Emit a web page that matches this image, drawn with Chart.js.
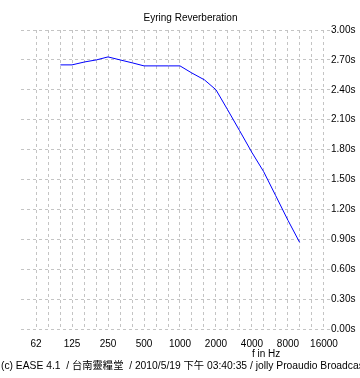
<!DOCTYPE html>
<html>
<head>
<meta charset="utf-8">
<script src="https://cdn.jsdelivr.net/npm/chart.js@4/dist/chart.umd.min.js"></script>
<style>
  html, body { margin: 0; padding: 0; background: #ffffff; }
  #wrap { position: relative; width: 360px; height: 378px; overflow: hidden; background: #fff; }
  canvas { position: absolute; left: 0; top: 0; }
  .txt { position: absolute; font-family: "Liberation Sans", Arial, "Noto Sans CJK TC", sans-serif; color: #000; white-space: nowrap; line-height: 1; }
  #xtitle { left: 252px; top: 349px; font-size: 10px; }
  #footer { left: 1px; top: 361px; font-size: 10.3px; }
</style>
</head>
<body>
<div id="wrap">
  <canvas id="c" width="360" height="378"></canvas>
  <div class="txt" id="xtitle">f in Hz</div>
  <div class="txt" id="footer">(c) EASE 4.1 &nbsp;/ 台南靈糧堂 &nbsp;/ 2010/5/19 下午 03:40:35 / jolly Proaudio Broadcast</div>
</div>
<script>
// Data (third-octave bands)
const frequencies = [100, 125, 160, 200, 250, 315, 400, 500, 630, 800, 1000, 1250, 1600, 2000, 2500, 3150, 4000, 5000, 6300, 8000, 10000];
const reverbTimes = [2.65, 2.65, 2.68, 2.70, 2.73, 2.70, 2.67, 2.64, 2.64, 2.64, 2.64, 2.57, 2.50, 2.40, 2.20, 1.99, 1.77, 1.58, 1.34, 1.09, 0.87];
const xTickLabels = ["62", "125", "250", "500", "1000", "2000", "4000", "8000", "16000"];
const yTickLabels = ["0.00s", "0.30s", "0.60s", "0.90s", "1.20s", "1.50s", "1.80s", "2.10s", "2.40s", "2.70s", "3.00s"];
const chartTitle = "Eyring Reverberation";

const FONT = "'Liberation Sans', Arial, sans-serif";
const points = frequencies.map((f, i) => ({ x: Math.log2(f / 1000), y: reverbTimes[i] }));
const dashGrid = { color: '#c4c4c4', lineWidth: 1, drawTicks: false, tickLength: 0 };

new Chart(document.getElementById('c'), {
  type: 'line',
  data: {
    datasets: [{
      data: points,
      borderColor: '#0000ff',
      borderWidth: 1,
      pointRadius: 0,
      tension: 0,
      fill: false
    }]
  },
  options: {
    responsive: false,
    animation: false,
    devicePixelRatio: 1,
    layout: { padding: { left: 21, right: 0, top: 0, bottom: 29 } },
    plugins: {
      legend: { display: false },
      tooltip: { enabled: false },
      title: {
        display: true,
        text: chartTitle,
        color: '#000',
        font: { family: FONT, size: 10, weight: 'normal' },
        padding: { top: 12, bottom: 6 }
      }
    },
    scales: {
      x: {
        type: 'linear',
        position: 'bottom',
        min: -4.417,
        max: 4.167,
        border: { display: false, dash: [3, 3] },
        grid: dashGrid,
        afterBuildTicks: (scale) => {
          const t = [];
          for (let k = -12; k <= 12; k++) t.push({ value: k / 3 });
          scale.ticks = t;
        },
        afterFit: (scale) => { scale.height = 20; },
        ticks: {
          autoSkip: false,
          maxRotation: 0,
          minRotation: 0,
          padding: 9,
          color: '#000',
          font: { family: FONT, size: 10 },
          callback: (v) => {
            const r = Math.round(v);
            if (Math.abs(v - r) < 1e-6) return xTickLabels[r + 4];
            return '';
          }
        }
      },
      y: {
        type: 'linear',
        position: 'right',
        min: 0,
        max: 3,
        border: { display: false, dash: [3, 3] },
        grid: dashGrid,
        afterBuildTicks: (scale) => {
          scale.ticks = yTickLabels.map((_, i) => ({ value: i * 0.3 }));
        },
        afterFit: (scale) => { scale.width = 30; },
        ticks: {
          padding: 1,
          color: '#000',
          font: { family: FONT, size: 10 },
          callback: (v, i) => yTickLabels[i]
        }
      }
    }
  }
});
</script>
</body>
</html>
